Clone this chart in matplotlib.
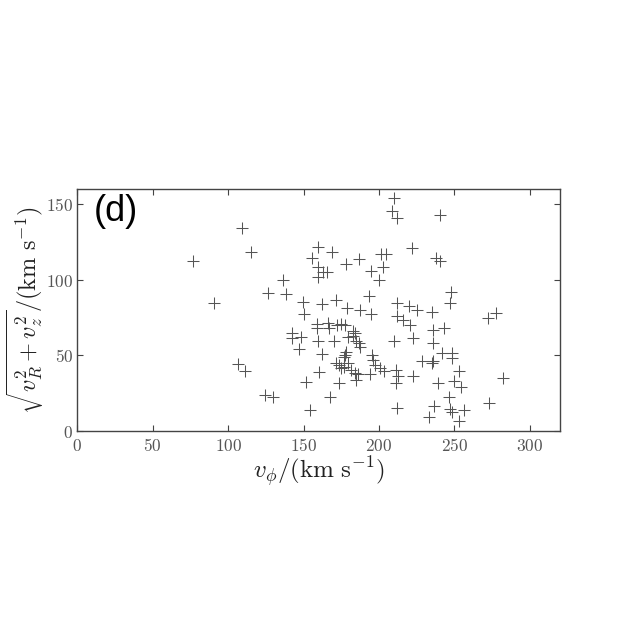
import matplotlib
matplotlib.use("Agg")
import matplotlib.pyplot as plt
from matplotlib.ticker import FuncFormatter

v_phi = [76.5, 90.6, 108.9, 115.1, 106.7, 111.1, 124.4, 129.9, 136.5, 126.2,
         138.1, 142.3, 142.3, 148.0, 147.1, 149.4, 150.2, 151.6, 154.2, 155.5,
         159.7, 159.5, 159.7, 165.3, 163.0, 169.0, 162.2, 171.2, 159.0, 159.0,
         165.9, 167.0, 159.3, 170.3, 162.2, 160.4, 167.5, 172.3, 174.8, 177.4,
         177.9, 178.5, 186.9, 187.3, 182.9, 184.0, 179.6, 182.5, 184.7, 186.9,
         187.3, 178.1, 177.4, 176.5, 171.4, 173.4, 174.8, 176.9, 179.6, 181.4,
         184.0, 186.0, 184.7, 173.2, 194.4, 201.3, 204.4, 202.8, 199.9, 193.5,
         194.4, 195.1, 196.2, 194.0, 197.3, 200.6, 203.3, 209.9, 208.6, 211.9,
         211.7, 211.7, 210.1, 211.0, 212.7, 211.2, 211.9, 219.8, 224.9, 234.9,
         216.0, 220.5, 222.0, 222.7, 228.2, 222.3, 233.3, 235.9, 243.2, 235.9,
         234.9, 235.9, 239.2, 236.6, 237.7, 240.4, 240.4, 241.5, 248.1, 248.1,
         247.6, 247.0, 253.1, 249.8, 254.3, 246.5, 247.0, 248.1, 256.3, 253.1,
         272.4, 277.5, 282.3, 273.0]
v_perp = [112.0, 84.3, 134.0, 118.5, 44.1, 39.9, 23.8, 22.7, 99.8, 91.4,
          90.8, 64.6, 61.3, 61.9, 54.0, 85.5, 77.3, 32.2, 13.9, 114.4,
          121.8, 108.6, 102.0, 105.3, 105.1, 118.3, 83.7, 86.4, 70.7, 67.9,
          71.2, 67.9, 59.7, 59.7, 50.7, 39.2, 22.7, 70.1, 70.7, 70.1,
          110.6, 81.1, 113.5, 80.0, 66.3, 64.6, 61.9, 62.8, 59.7, 58.4,
          55.7, 52.4, 50.2, 48.7, 44.7, 43.6, 41.4, 42.5, 44.7, 40.3,
          38.1, 37.7, 33.7, 31.5, 106.0, 117.0, 116.8, 108.2, 99.8, 89.0,
          77.1, 50.2, 46.9, 37.7, 43.6, 41.4, 39.7, 153.8, 145.4, 140.6,
          84.3, 75.7, 59.7, 40.3, 36.7, 31.7, 15.4, 82.8, 80.0, 78.9,
          73.4, 70.1, 120.8, 61.3, 46.5, 36.4, 9.5, 66.8, 68.3, 58.0,
          45.1, 46.3, 31.5, 16.5, 114.2, 112.6, 142.8, 51.4, 51.8, 48.5,
          92.1, 84.9, 39.7, 33.1, 29.3, 22.3, 14.3, 12.6, 13.9, 6.8,
          74.5, 77.8, 35.2, 18.7]

xticks = [0, 50, 100, 150, 200, 250, 300]
yticks = [0, 50, 100, 150]

plt.rcParams['mathtext.fontset'] = 'cm'

fig = plt.figure(figsize=(6.23, 6.23), dpi=100)
ax = fig.add_axes([0.124, 0.308, 0.775, 0.389])

ax.plot(v_phi, v_perp, linestyle='none', marker='+', markersize=8.5,
        markeredgewidth=0.75, color='#555555')

ax.set_xlim(0, 320)
ax.set_ylim(0, 160)
ax.set_xticks(xticks)
ax.set_yticks(yticks)
math_fmt = FuncFormatter(lambda v, p: '$%g$' % v)
ax.xaxis.set_major_formatter(math_fmt)
ax.yaxis.set_major_formatter(math_fmt)
ax.tick_params(direction='in', top=True, right=True, length=4, width=0.8,
               labelsize=12.5, colors='#444444', labelcolor='#555555')
ax.tick_params(axis='x', pad=4)
ax.tick_params(axis='y', pad=3)
for s in ax.spines.values():
    s.set_color('#444444')
    s.set_linewidth(1.0)

ax.set_xlabel(r'$v_\phi/(\mathrm{km\ s}^{-1})$', fontsize=18, labelpad=0,
              color='#222222')
ax.set_ylabel(r'$\sqrt{v_R^2+v_z^2}/(\mathrm{km\ s}^{-1})$', fontsize=17.5,
              labelpad=0, color='#222222')
ax.text(0.035, 0.98, '(d)', transform=ax.transAxes, va='top', ha='left',
        fontsize=26, family='Liberation Sans')

fig.savefig('out.png', dpi=100)
